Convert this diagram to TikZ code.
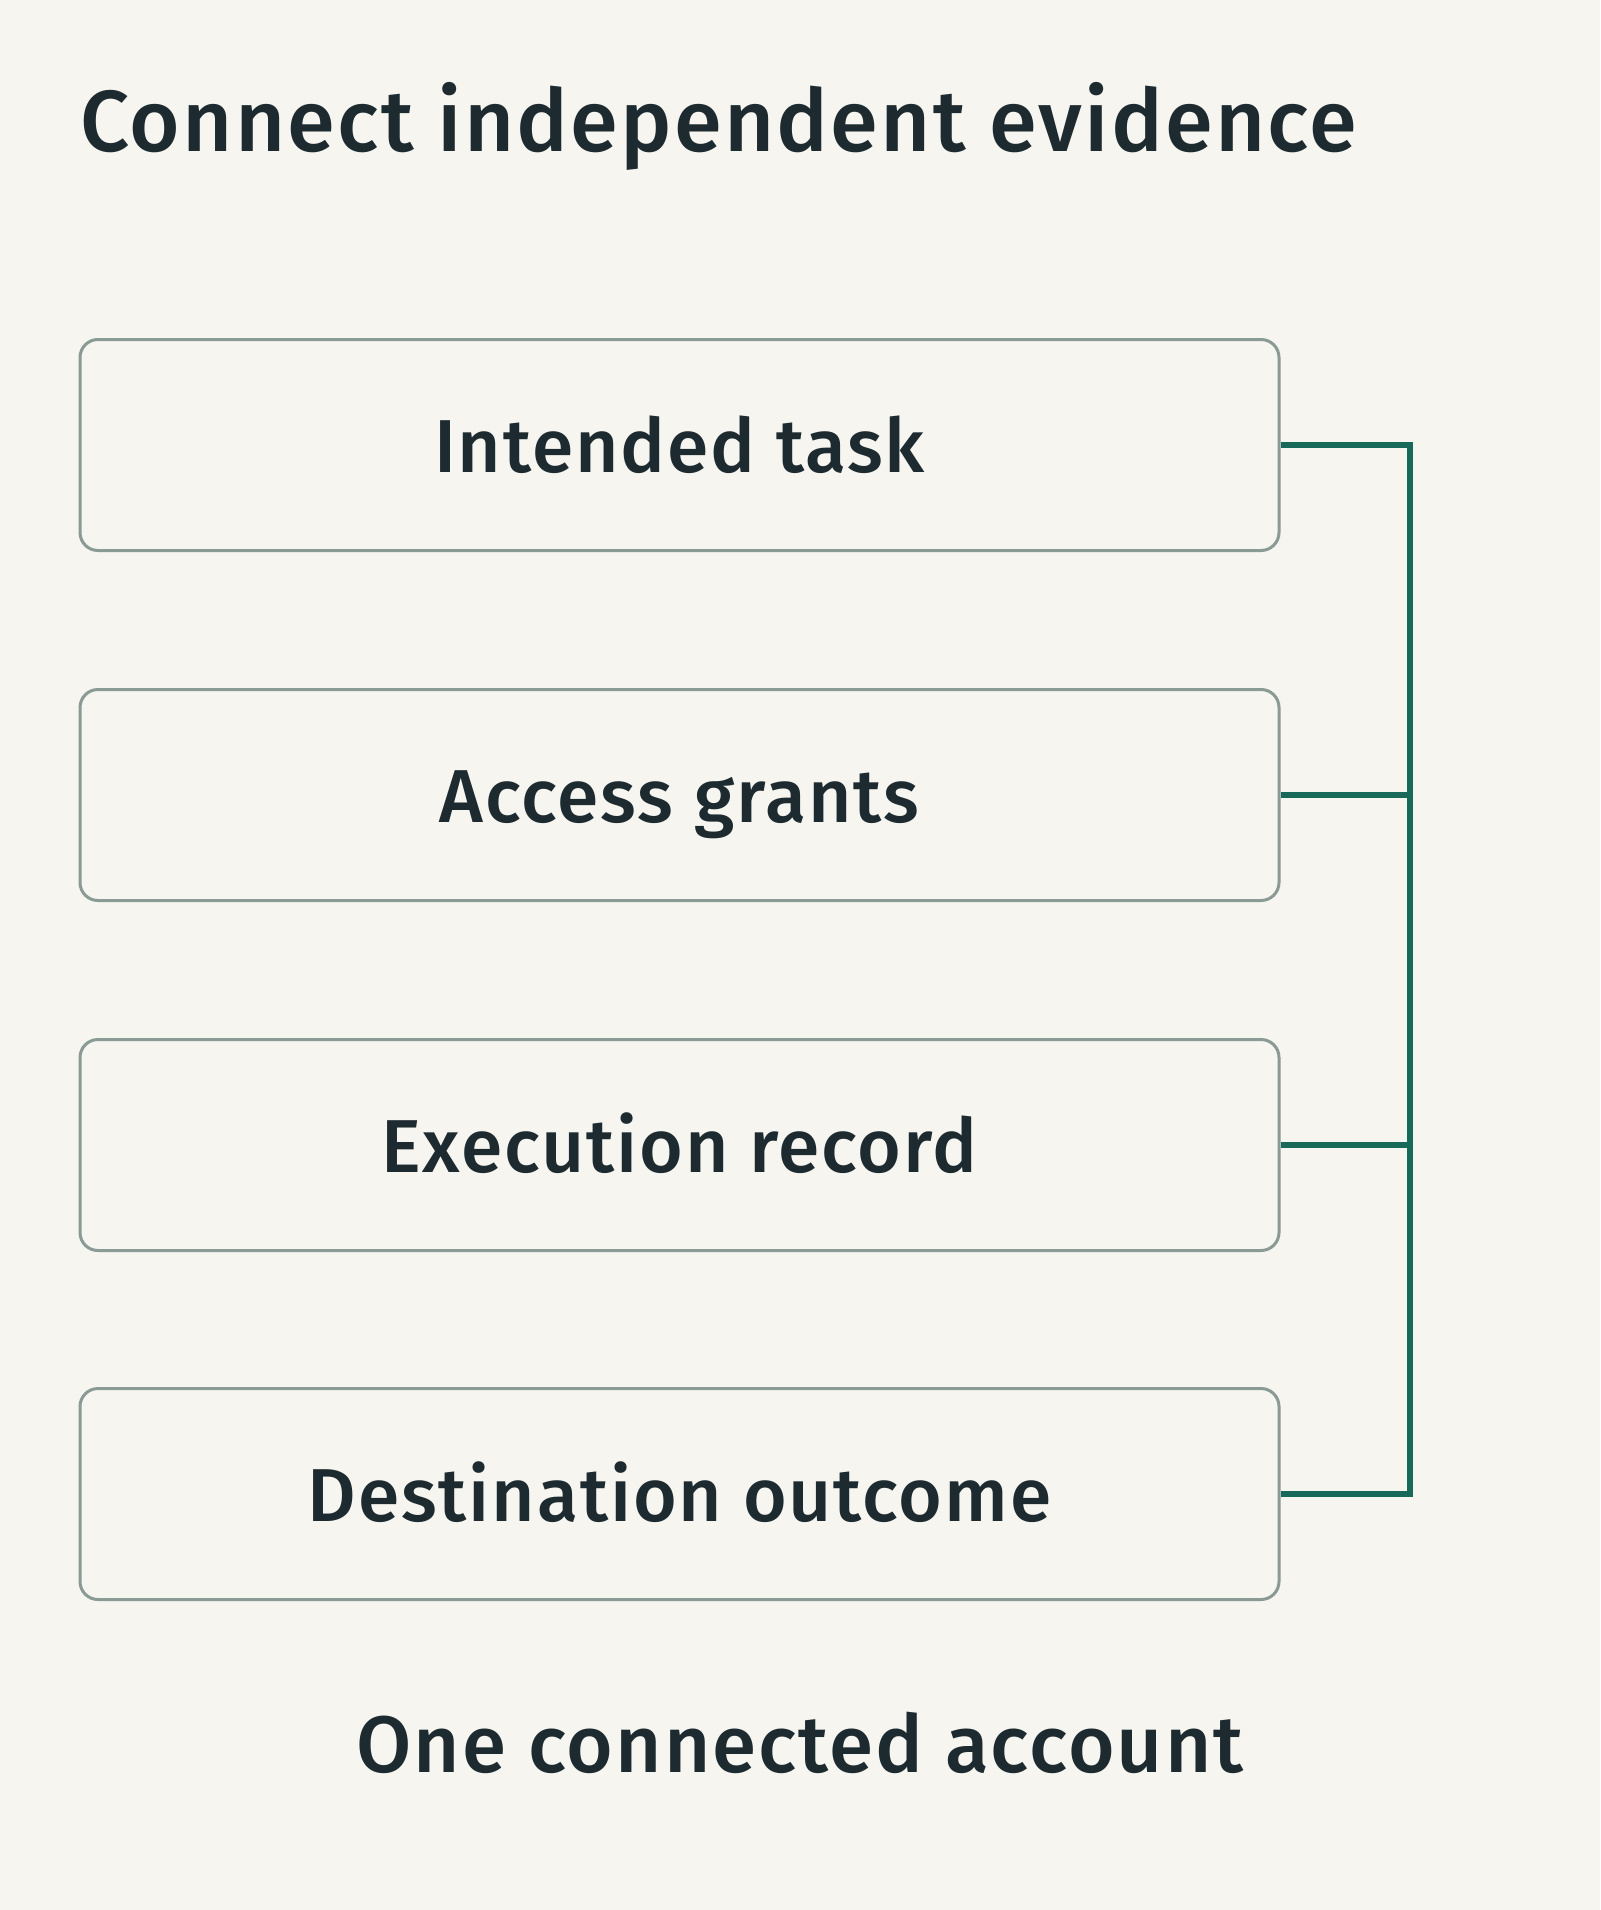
\documentclass[tikz,border=0pt]{standalone}
\usepackage{fontspec}
\setmainfont{Fira Sans}[BoldFont={Fira Sans Medium}, BoldFeatures={LetterSpace=2.5}]
\definecolor{paper}{HTML}{F6F5F0}
\definecolor{ink}{HTML}{1D2B30}
\definecolor{boxgray}{HTML}{8A9A95}
\definecolor{linkgreen}{HTML}{17695A}
\begin{document}
\begin{tikzpicture}[x=1pt,y=-1pt,
  evbox/.style={draw=boxgray, line width=3pt, rounded corners=18pt, inner sep=0pt,
    minimum width=1199pt, minimum height=211pt, text=ink,
    text height=54pt, text depth=0pt,
    font=\fontsize{75}{80}\selectfont\bfseries},
  link/.style={draw=linkgreen, line width=5.5pt}]
\fill[paper] (0,0) rectangle (1600,1910);
\node[anchor=base west, inner sep=0pt, text=ink, font=\fontsize{86.7}{96}\selectfont\bfseries] (title) at (80,152) {Connect independent evidence};
\node[evbox] (task) at (679.5,445) {Intended task};
\node[evbox] (grants) at (679.5,795) {Access grants};
\node[evbox] (record) at (679.5,1145) {Execution record};
\node[evbox] (outcome) at (679.5,1494) {Destination outcome};
\node[anchor=base, inner sep=0pt, text=ink, font=\fontsize{80}{86}\selectfont\bfseries] (account) at (800,1772) {One connected account};
\coordinate (bus) at (1410,0);
\draw[link] (task.east) -- (task.east -| bus) -- (outcome.east -| bus) -- (outcome.east);
\draw[link] (grants.east) -- (grants.east -| bus);
\draw[link] (record.east) -- (record.east -| bus);
\end{tikzpicture}
\end{document}
